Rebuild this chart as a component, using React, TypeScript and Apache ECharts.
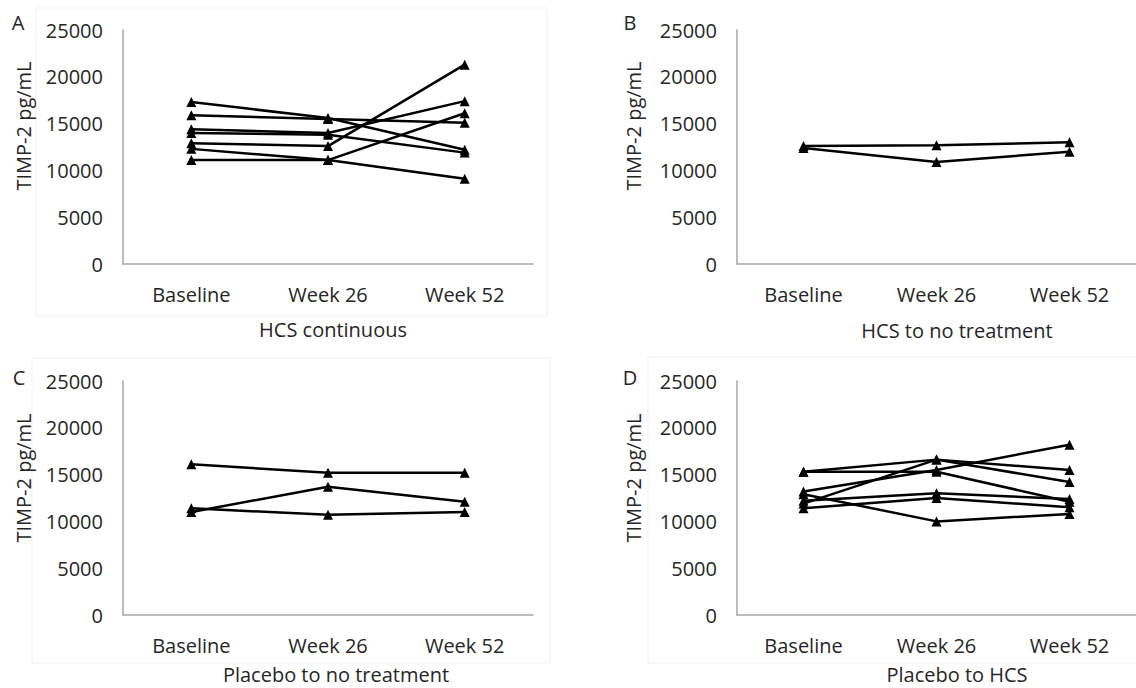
import React, { useEffect, useRef } from "react";
import * as echarts from "echarts";

const categories = ["Baseline", "Week 26", "Week 52"];
const yTicks = { min: 0, max: 25000, interval: 5000 };

// Panel A – HCS continuous
const hcsContinuous = [
  [17300, 15600, 12200],
  [15900, 15500, 15100],
  [14400, 14000, 17400],
  [14000, 13800, 11900],
  [12900, 12600, 21300],
  [12300, 11100, 9100],
  [11100, 11100, 16100],
];
// Panel B – HCS to no treatment
const hcsToNoTreatment = [
  [12600, 12700, 13000],
  [12400, 10900, 12000],
];
// Panel C – Placebo to no treatment
const placeboToNoTreatment = [
  [16100, 15200, 15200],
  [11000, 13700, 12100],
  [11400, 10700, 11000],
];
// Panel D – Placebo to HCS
const placeboToHcs = [
  [15300, 16600, 15500],
  [15300, 15300, 12100],
  [13200, 15500, 18200],
  [12900, 10000, 10800],
  [11900, 16600, 14200],
  [12200, 13000, 12400],
  [11400, 12500, 11500],
];

const panelLetters = ["A", "B", "C", "D"];
const panelTitles = [
  "HCS continuous",
  "HCS to no treatment",
  "Placebo to no treatment",
  "Placebo to HCS",
];
const yTitle = "TIMP-2 pg/mL";

const FONT = "'Open Sans', sans-serif";
const TEXT = "#262626";
const AXIS = "#a6a6a6";
const FS = 20;

export default function App() {
  const ref = useRef<HTMLDivElement>(null);
  useEffect(() => {
    if (!ref.current) return;
    const chart = echarts.init(ref.current, null, { renderer: "svg" });
    const panels = [hcsContinuous, hcsToNoTreatment, placeboToNoTreatment, placeboToHcs];
    const grids = [
      { left: 123, top: 30, width: 410, height: 234 },
      { left: 737, top: 30, width: 408, height: 234 },
      { left: 123, top: 381, width: 410, height: 234 },
      { left: 737, top: 381, width: 408, height: 234 },
    ];
    const letterPos = [
      [18, 22],
      [630, 22],
      [19, 377],
      [630, 377],
    ];
    const yTitlePos = [
      [23, 126],
      [633, 126],
      [23, 478],
      [633, 478],
    ];
    const titlePos = [
      [333, 329],
      [957, 330],
      [336, 674],
      [957, 674],
    ];
    const borders = [
      [36, 8, 511, 308],
      [32, 358, 518, 305],
      [648, 357, 500, 306],
    ];

    const series: any[] = [];
    panels.forEach((lines, gi) => {
      lines.forEach((vals) => {
        series.push({
          type: "line",
          xAxisIndex: gi,
          yAxisIndex: gi,
          data: vals,
          symbol: "triangle",
          symbolSize: 10,
          showSymbol: true,
          itemStyle: { color: "#000" },
          lineStyle: { color: "#000", width: 2.5 },
          silent: true,
        });
      });
    });

    const graphic: any[] = [];
    borders.forEach((b) => {
      graphic.push({
        type: "rect",
        shape: { x: b[0], y: b[1], width: b[2], height: b[3] },
        style: { fill: "none", stroke: "#f0f0f0", lineWidth: 1 },
        silent: true,
        z: -1,
      });
    });
    panelLetters.forEach((l, i) => {
      graphic.push({
        type: "text",
        x: letterPos[i][0],
        y: letterPos[i][1],
        style: {
          text: l,
          font: `${FS}px ${FONT}`,
          fill: TEXT,
          textAlign: "center",
          textVerticalAlign: "middle",
        },
      });
      graphic.push({
        type: "text",
        x: yTitlePos[i][0],
        y: yTitlePos[i][1],
        rotation: Math.PI / 2,
        style: {
          text: yTitle,
          font: `${FS}px ${FONT}`,
          fill: TEXT,
          textAlign: "center",
          textVerticalAlign: "middle",
        },
      });
      graphic.push({
        type: "text",
        x: titlePos[i][0],
        y: titlePos[i][1],
        style: {
          text: panelTitles[i],
          font: `${FS}px ${FONT}`,
          fill: TEXT,
          textAlign: "center",
          textVerticalAlign: "middle",
        },
      });
    });

    chart.setOption({
      animation: false,
      backgroundColor: "#fff",
      grid: grids,
      xAxis: grids.map((_, i) => ({
        type: "category",
        gridIndex: i,
        data: categories,
        boundaryGap: true,
        axisLine: { show: true, lineStyle: { color: AXIS, width: 1.5 } },
        axisTick: { show: false },
        axisLabel: { color: TEXT, fontFamily: FONT, fontSize: FS, margin: 20 },
        splitLine: { show: false },
      })),
      yAxis: grids.map((_, i) => ({
        type: "value",
        gridIndex: i,
        min: yTicks.min,
        max: yTicks.max,
        interval: yTicks.interval,
        axisLine: { show: true, lineStyle: { color: AXIS, width: 1.5 } },
        axisTick: { show: false },
        axisLabel: {
          color: TEXT,
          fontFamily: FONT,
          fontSize: FS,
          margin: 20,
          formatter: (v: number) => String(v),
        },
        splitLine: { show: false },
      })),
      series,
      graphic,
    });
    return () => chart.dispose();
  }, []);
  return (
    <div
      ref={ref}
      style={{ position: "fixed", left: 0, top: 0, width: 1136, height: 688, background: "#fff" }}
    />
  );
}
